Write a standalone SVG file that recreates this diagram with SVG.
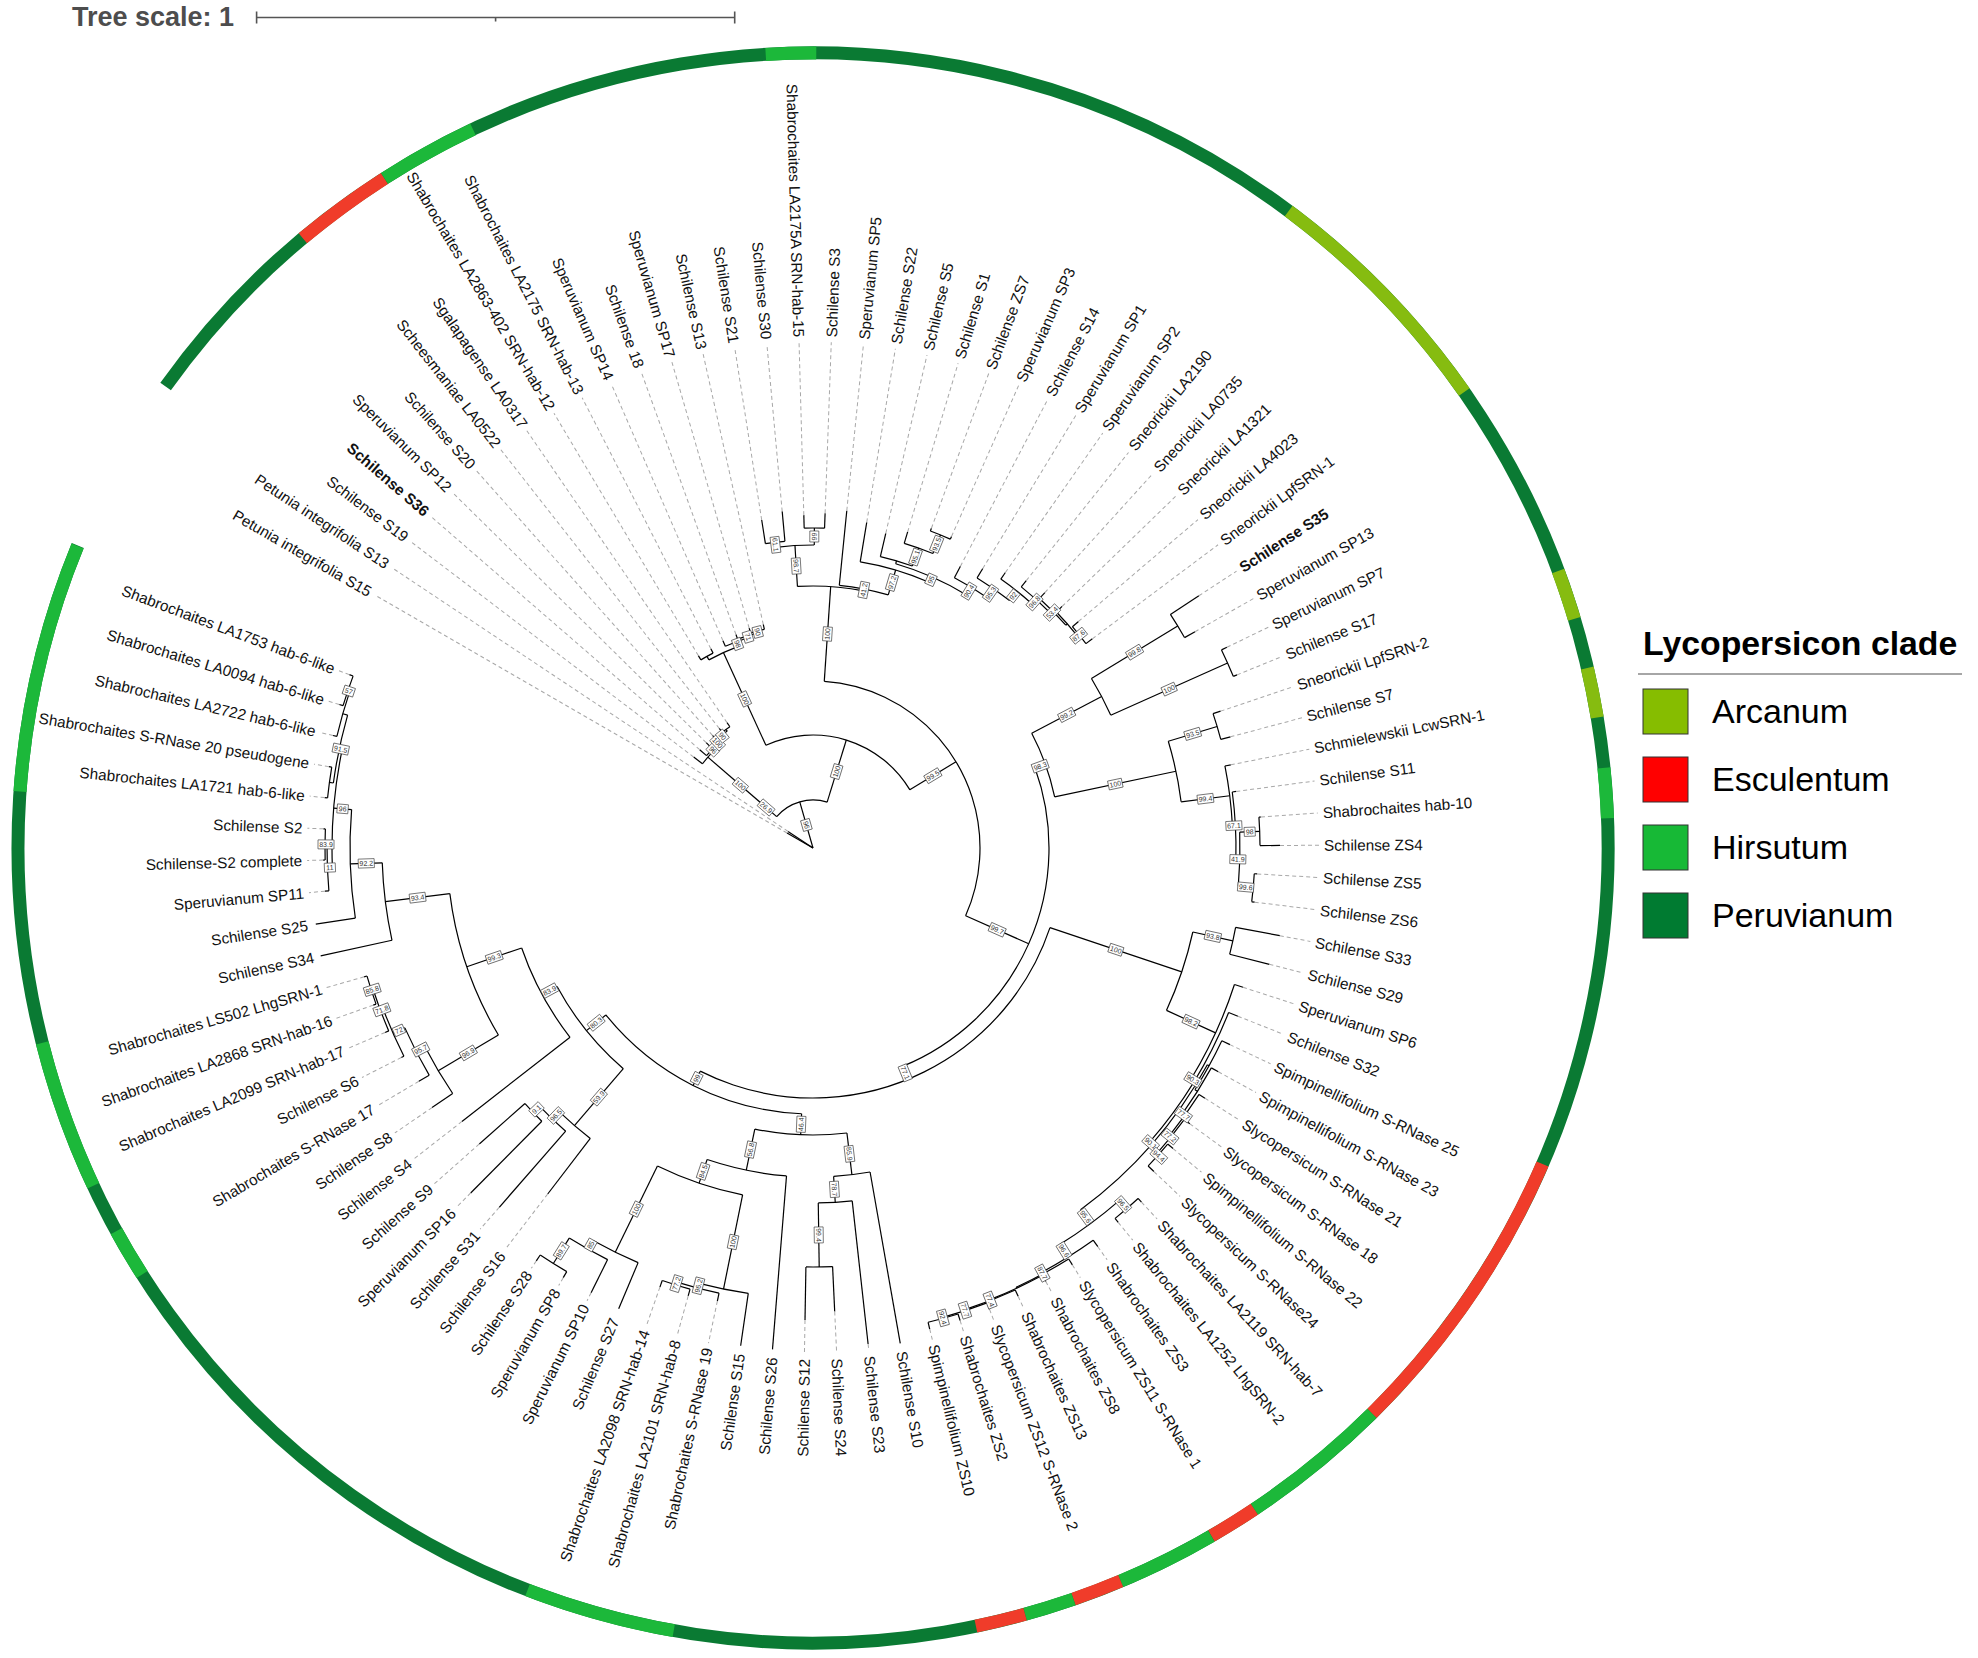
<svg xmlns="http://www.w3.org/2000/svg" width="1978" height="1658" viewBox="0 0 1978 1658">
<style>
.br{fill:none;stroke:#000;stroke-width:1.2}
.ld{fill:none;stroke:#a8a8a8;stroke-width:1;stroke-dasharray:4 3}
.rg{fill:none;stroke-width:13}
.lb text{font-family:"Liberation Sans",Arial,sans-serif;font-size:15.3px;fill:#111;dominant-baseline:central}
.lb .L{text-anchor:end}
.lb .b{font-weight:bold}
.bs rect{fill:#fff;stroke:#444;stroke-width:0.7}
.bs text{font-family:"Liberation Sans",Arial,sans-serif;font-size:7px;fill:#333;text-anchor:middle;dominant-baseline:central}
.lg{font-family:"Liberation Sans",Arial,sans-serif;font-size:34px;fill:#000}
.sw{stroke:#333;stroke-width:1}
</style>
<rect width="1978" height="1658" fill="#fff"/>
<g id="tree-scale">
<text x="72" y="26" font-family="Liberation Sans,Arial,sans-serif" font-size="27" font-weight="bold" fill="#4d4d4d">Tree scale: 1</text>
<path d="M256.6 17.5H734.7M256.6 11.5V23.5M734.7 11.5V23.5M495.6 17.5V21.5" fill="none" stroke="#555" stroke-width="1.6"/>
</g>
<g transform="translate(813,848)">
<g id="clade-ring">
<circle class="rg" r="795" stroke="#0a7a33" stroke-dasharray="4812.6 9999" transform="rotate(215.48)"/>
<circle class="rg" r="795" stroke="#f03c2a" stroke-dasharray="101.32 9999" transform="rotate(230.08)"/>
<circle class="rg" r="795" stroke="#1cb83a" stroke-dasharray="101.32 9999" transform="rotate(237.38)"/>
<circle class="rg" r="795" stroke="#1cb83a" stroke-dasharray="50.66 9999" transform="rotate(266.59)"/>
<circle class="rg" r="795" stroke="#86bc10" stroke-dasharray="253.3 9999" transform="rotate(306.75)"/>
<circle class="rg" r="795" stroke="#86bc10" stroke-dasharray="50.66 9999" transform="rotate(339.61)"/>
<circle class="rg" r="795" stroke="#86bc10" stroke-dasharray="50.66 9999" transform="rotate(346.91)"/>
<circle class="rg" r="795" stroke="#1cb83a" stroke-dasharray="50.66 9999" transform="rotate(354.21)"/>
<circle class="rg" r="795" stroke="#f03c2a" stroke-dasharray="303.95 9999" transform="rotate(23.42)"/>
<circle class="rg" r="795" stroke="#1cb83a" stroke-dasharray="151.98 9999" transform="rotate(45.33)"/>
<circle class="rg" r="795" stroke="#f03c2a" stroke-dasharray="50.66 9999" transform="rotate(56.28)"/>
<circle class="rg" r="795" stroke="#1cb83a" stroke-dasharray="101.32 9999" transform="rotate(59.93)"/>
<circle class="rg" r="795" stroke="#f03c2a" stroke-dasharray="50.66 9999" transform="rotate(67.23)"/>
<circle class="rg" r="795" stroke="#1cb83a" stroke-dasharray="50.66 9999" transform="rotate(70.88)"/>
<circle class="rg" r="795" stroke="#f03c2a" stroke-dasharray="50.66 9999" transform="rotate(74.53)"/>
<circle class="rg" r="795" stroke="#1cb83a" stroke-dasharray="151.98 9999" transform="rotate(100.09)"/>
<circle class="rg" r="795" stroke="#1cb83a" stroke-dasharray="50.66 9999" transform="rotate(147.55)"/>
<circle class="rg" r="795" stroke="#1cb83a" stroke-dasharray="151.98 9999" transform="rotate(154.86)"/>
<circle class="rg" r="795" stroke="#1cb83a" stroke-dasharray="253.3 9999" transform="rotate(184.07)"/>
</g>
<g id="connectors" class="br">
<path d="M0 0H30" transform="rotate(210)"/>
<path d="M0 0H30" transform="rotate(213.65)"/>
<path d="M0 0H48" transform="rotate(253.99)"/>
<path d="M48 0H139" transform="rotate(220.84)"/>
<path d="M48 0H113" transform="rotate(287.14)"/>
<path d="M139 0H150" transform="rotate(217.3)"/>
<path d="M139 0H141" transform="rotate(224.38)"/>
<path d="M141 0H150" transform="rotate(220.95)"/>
<path d="M141 0H143" transform="rotate(227.8)"/>
<path d="M143 0H150" transform="rotate(224.6)"/>
<path d="M143 0H145" transform="rotate(231)"/>
<path d="M145 0H151" transform="rotate(228.26)"/>
<path d="M145 0H147" transform="rotate(233.73)"/>
<path d="M147 0H152" transform="rotate(231.91)"/>
<path d="M147 0H152" transform="rotate(235.56)"/>
<path d="M113 0H215" transform="rotate(245.37)"/>
<path d="M113 0H167" transform="rotate(328.91)"/>
<path d="M215 0H219" transform="rotate(241.04)"/>
<path d="M215 0H220" transform="rotate(249.71)"/>
<path d="M219 0H224" transform="rotate(239.21)"/>
<path d="M219 0H224" transform="rotate(242.86)"/>
<path d="M220 0H226" transform="rotate(246.51)"/>
<path d="M220 0H222" transform="rotate(252.9)"/>
<path d="M222 0H227" transform="rotate(250.16)"/>
<path d="M222 0H224" transform="rotate(255.64)"/>
<path d="M224 0H229" transform="rotate(253.81)"/>
<path d="M224 0H229" transform="rotate(257.46)"/>
<path d="M167 0H262" transform="rotate(273.87)"/>
<path d="M167 0H236" transform="rotate(23.94)"/>
<path d="M262 0H303" transform="rotate(266.59)"/>
<path d="M262 0H264" transform="rotate(281.14)"/>
<path d="M303 0H308" transform="rotate(262.94)"/>
<path d="M303 0H320" transform="rotate(270.24)"/>
<path d="M308 0H332" transform="rotate(261.11)"/>
<path d="M308 0H338" transform="rotate(264.77)"/>
<path d="M320 0H333" transform="rotate(268.42)"/>
<path d="M320 0H335" transform="rotate(272.07)"/>
<path d="M264 0H339" transform="rotate(275.72)"/>
<path d="M264 0H290" transform="rotate(286.56)"/>
<path d="M290 0H330" transform="rotate(279.37)"/>
<path d="M290 0H296" transform="rotate(293.74)"/>
<path d="M296 0H299" transform="rotate(286.22)"/>
<path d="M296 0H305" transform="rotate(301.25)"/>
<path d="M299 0H323" transform="rotate(283.02)"/>
<path d="M299 0H318" transform="rotate(289.41)"/>
<path d="M318 0H330" transform="rotate(286.67)"/>
<path d="M318 0H338" transform="rotate(292.15)"/>
<path d="M338 0H341" transform="rotate(290.32)"/>
<path d="M338 0H341" transform="rotate(293.97)"/>
<path d="M305 0H318" transform="rotate(297.62)"/>
<path d="M305 0H316" transform="rotate(304.87)"/>
<path d="M316 0H327" transform="rotate(301.28)"/>
<path d="M316 0H328" transform="rotate(308.47)"/>
<path d="M328 0H336" transform="rotate(304.93)"/>
<path d="M328 0H334" transform="rotate(312)"/>
<path d="M334 0H342" transform="rotate(308.58)"/>
<path d="M334 0H337" transform="rotate(315.43)"/>
<path d="M337 0H345" transform="rotate(312.23)"/>
<path d="M337 0H339" transform="rotate(318.62)"/>
<path d="M339 0H347" transform="rotate(315.88)"/>
<path d="M339 0H341" transform="rotate(321.36)"/>
<path d="M341 0H349" transform="rotate(319.53)"/>
<path d="M341 0H349" transform="rotate(323.18)"/>
<path d="M236 0H247" transform="rotate(340.19)"/>
<path d="M236 0H250" transform="rotate(67.69)"/>
<path d="M247 0H326" transform="rotate(332.31)"/>
<path d="M247 0H371" transform="rotate(348.06)"/>
<path d="M326 0H427" transform="rotate(328.66)"/>
<path d="M326 0H454" transform="rotate(335.96)"/>
<path d="M427 0H461" transform="rotate(326.83)"/>
<path d="M427 0H439" transform="rotate(330.48)"/>
<path d="M454 0H460" transform="rotate(334.13)"/>
<path d="M454 0H458" transform="rotate(337.79)"/>
<path d="M371 0H422" transform="rotate(343.27)"/>
<path d="M371 0H420" transform="rotate(352.85)"/>
<path d="M422 0H430" transform="rotate(341.44)"/>
<path d="M422 0H432" transform="rotate(345.09)"/>
<path d="M420 0H426" transform="rotate(348.74)"/>
<path d="M420 0H423" transform="rotate(356.96)"/>
<path d="M423 0H427" transform="rotate(352.39)"/>
<path d="M423 0H427" transform="rotate(1.52)"/>
<path d="M427 0H447" transform="rotate(357.87)"/>
<path d="M427 0H442" transform="rotate(5.17)"/>
<path d="M447 0H449" transform="rotate(356.04)"/>
<path d="M447 0H467" transform="rotate(359.69)"/>
<path d="M442 0H445" transform="rotate(3.34)"/>
<path d="M442 0H445" transform="rotate(6.99)"/>
<path d="M250 0H389" transform="rotate(18.57)"/>
<path d="M250 0H266" transform="rotate(116.8)"/>
<path d="M389 0H430" transform="rotate(12.47)"/>
<path d="M389 0H443" transform="rotate(24.67)"/>
<path d="M430 0H475" transform="rotate(10.64)"/>
<path d="M430 0H471" transform="rotate(14.3)"/>
<path d="M443 0H452" transform="rotate(17.95)"/>
<path d="M443 0H447" transform="rotate(31.38)"/>
<path d="M447 0H457" transform="rotate(21.6)"/>
<path d="M447 0H450" transform="rotate(41.16)"/>
<path d="M450 0H452" transform="rotate(28.79)"/>
<path d="M450 0H467" transform="rotate(53.52)"/>
<path d="M452 0H461" transform="rotate(25.25)"/>
<path d="M452 0H455" transform="rotate(32.33)"/>
<path d="M455 0H463" transform="rotate(28.9)"/>
<path d="M455 0H458" transform="rotate(35.75)"/>
<path d="M458 0H465" transform="rotate(32.55)"/>
<path d="M458 0H460" transform="rotate(38.94)"/>
<path d="M460 0H467" transform="rotate(36.2)"/>
<path d="M460 0H462" transform="rotate(41.68)"/>
<path d="M462 0H469" transform="rotate(39.85)"/>
<path d="M462 0H470" transform="rotate(43.5)"/>
<path d="M467 0H478" transform="rotate(48.98)"/>
<path d="M467 0H482" transform="rotate(58.06)"/>
<path d="M478 0H483" transform="rotate(47.15)"/>
<path d="M478 0H483" transform="rotate(50.81)"/>
<path d="M482 0H490" transform="rotate(54.46)"/>
<path d="M482 0H484" transform="rotate(61.65)"/>
<path d="M484 0H491" transform="rotate(58.11)"/>
<path d="M484 0H485" transform="rotate(65.19)"/>
<path d="M485 0H492" transform="rotate(61.76)"/>
<path d="M485 0H486" transform="rotate(68.61)"/>
<path d="M486 0H493" transform="rotate(65.41)"/>
<path d="M486 0H487" transform="rotate(71.8)"/>
<path d="M487 0H494" transform="rotate(69.06)"/>
<path d="M487 0H488" transform="rotate(74.54)"/>
<path d="M488 0H495" transform="rotate(72.71)"/>
<path d="M488 0H495" transform="rotate(76.36)"/>
<path d="M266 0H287" transform="rotate(92.46)"/>
<path d="M266 0H291" transform="rotate(141.13)"/>
<path d="M287 0H329" transform="rotate(83.21)"/>
<path d="M287 0H329" transform="rotate(101.7)"/>
<path d="M329 0H503" transform="rotate(80.01)"/>
<path d="M329 0H355" transform="rotate(86.41)"/>
<path d="M355 0H499" transform="rotate(83.66)"/>
<path d="M355 0H419" transform="rotate(89.15)"/>
<path d="M419 0H464" transform="rotate(87.32)"/>
<path d="M419 0H472" transform="rotate(90.97)"/>
<path d="M329 0H503" transform="rotate(94.62)"/>
<path d="M329 0H354" transform="rotate(108.77)"/>
<path d="M354 0H450" transform="rotate(101.47)"/>
<path d="M354 0H450" transform="rotate(116.07)"/>
<path d="M450 0H503" transform="rotate(98.27)"/>
<path d="M450 0H455" transform="rotate(104.66)"/>
<path d="M455 0H463" transform="rotate(101.92)"/>
<path d="M455 0H458" transform="rotate(107.4)"/>
<path d="M458 0H465" transform="rotate(105.57)"/>
<path d="M458 0H465" transform="rotate(109.22)"/>
<path d="M450 0H500" transform="rotate(112.87)"/>
<path d="M450 0H460" transform="rotate(119.26)"/>
<path d="M460 0H497" transform="rotate(116.52)"/>
<path d="M460 0H490" transform="rotate(122)"/>
<path d="M490 0H497" transform="rotate(120.17)"/>
<path d="M490 0H497" transform="rotate(123.83)"/>
<path d="M291 0H366" transform="rotate(130.68)"/>
<path d="M291 0H308" transform="rotate(151.57)"/>
<path d="M366 0H436" transform="rotate(127.48)"/>
<path d="M366 0H376" transform="rotate(133.87)"/>
<path d="M376 0H477" transform="rotate(131.13)"/>
<path d="M376 0H385" transform="rotate(136.61)"/>
<path d="M385 0H486" transform="rotate(134.78)"/>
<path d="M385 0H446" transform="rotate(138.43)"/>
<path d="M308 0H445" transform="rotate(142.08)"/>
<path d="M308 0H366" transform="rotate(161.06)"/>
<path d="M366 0H436" transform="rotate(149.27)"/>
<path d="M366 0H431" transform="rotate(172.84)"/>
<path d="M436 0H461" transform="rotate(145.73)"/>
<path d="M436 0H446" transform="rotate(152.81)"/>
<path d="M446 0H458" transform="rotate(149.38)"/>
<path d="M446 0H459" transform="rotate(156.23)"/>
<path d="M459 0H462" transform="rotate(153.03)"/>
<path d="M459 0H462" transform="rotate(159.43)"/>
<path d="M462 0H466" transform="rotate(156.68)"/>
<path d="M462 0H464" transform="rotate(162.17)"/>
<path d="M464 0H467" transform="rotate(160.34)"/>
<path d="M464 0H467" transform="rotate(163.99)"/>
<path d="M431 0H504" transform="rotate(167.64)"/>
<path d="M431 0H463" transform="rotate(178.03)"/>
<path d="M463 0H503" transform="rotate(171.29)"/>
<path d="M463 0H481" transform="rotate(184.76)"/>
<path d="M481 0H486" transform="rotate(177.68)"/>
<path d="M481 0H484" transform="rotate(191.83)"/>
<path d="M486 0H490" transform="rotate(174.94)"/>
<path d="M486 0H488" transform="rotate(180.42)"/>
<path d="M488 0H490" transform="rotate(178.59)"/>
<path d="M488 0H490" transform="rotate(182.24)"/>
<path d="M484 0H488" transform="rotate(187.72)"/>
<path d="M484 0H489" transform="rotate(195.94)"/>
<path d="M488 0H491" transform="rotate(185.89)"/>
<path d="M488 0H491" transform="rotate(189.54)"/>
<path d="M489 0H493" transform="rotate(193.19)"/>
<path d="M489 0H491" transform="rotate(198.68)"/>
<path d="M491 0H495" transform="rotate(196.85)"/>
<path d="M491 0H495" transform="rotate(200.5)"/>
<circle r="48" stroke-dasharray="55.54 9999" transform="rotate(220.84)"/>
<circle r="139" stroke-dasharray="17.18 9999" transform="rotate(217.3)"/>
<circle r="141" stroke-dasharray="16.86 9999" transform="rotate(220.95)"/>
<circle r="143" stroke-dasharray="15.97 9999" transform="rotate(224.6)"/>
<circle r="145" stroke-dasharray="13.84 9999" transform="rotate(228.26)"/>
<circle r="147" stroke-dasharray="9.36 9999" transform="rotate(231.91)"/>
<circle r="113" stroke-dasharray="164.76 9999" transform="rotate(245.37)"/>
<circle r="215" stroke-dasharray="32.53 9999" transform="rotate(241.04)"/>
<circle r="219" stroke-dasharray="13.95 9999" transform="rotate(239.21)"/>
<circle r="220" stroke-dasharray="24.54 9999" transform="rotate(246.51)"/>
<circle r="222" stroke-dasharray="21.23 9999" transform="rotate(250.16)"/>
<circle r="224" stroke-dasharray="14.27 9999" transform="rotate(253.81)"/>
<circle r="167" stroke-dasharray="320.82 9999" transform="rotate(273.87)"/>
<circle r="262" stroke-dasharray="66.53 9999" transform="rotate(266.59)"/>
<circle r="303" stroke-dasharray="38.61 9999" transform="rotate(262.94)"/>
<circle r="308" stroke-dasharray="19.67 9999" transform="rotate(261.11)"/>
<circle r="320" stroke-dasharray="20.39 9999" transform="rotate(268.42)"/>
<circle r="264" stroke-dasharray="49.95 9999" transform="rotate(275.72)"/>
<circle r="290" stroke-dasharray="72.73 9999" transform="rotate(279.37)"/>
<circle r="296" stroke-dasharray="77.65 9999" transform="rotate(286.22)"/>
<circle r="299" stroke-dasharray="33.35 9999" transform="rotate(283.02)"/>
<circle r="318" stroke-dasharray="30.41 9999" transform="rotate(286.67)"/>
<circle r="338" stroke-dasharray="21.53 9999" transform="rotate(290.32)"/>
<circle r="305" stroke-dasharray="38.59 9999" transform="rotate(297.62)"/>
<circle r="316" stroke-dasharray="39.65 9999" transform="rotate(301.28)"/>
<circle r="328" stroke-dasharray="40.47 9999" transform="rotate(304.93)"/>
<circle r="334" stroke-dasharray="39.93 9999" transform="rotate(308.58)"/>
<circle r="337" stroke-dasharray="37.58 9999" transform="rotate(312.23)"/>
<circle r="339" stroke-dasharray="32.42 9999" transform="rotate(315.88)"/>
<circle r="341" stroke-dasharray="21.72 9999" transform="rotate(319.53)"/>
<circle r="236" stroke-dasharray="360.41 9999" transform="rotate(340.19)"/>
<circle r="247" stroke-dasharray="67.9 9999" transform="rotate(332.31)"/>
<circle r="326" stroke-dasharray="41.54 9999" transform="rotate(328.66)"/>
<circle r="427" stroke-dasharray="27.2 9999" transform="rotate(326.83)"/>
<circle r="454" stroke-dasharray="29 9999" transform="rotate(334.13)"/>
<circle r="371" stroke-dasharray="62.03 9999" transform="rotate(343.27)"/>
<circle r="422" stroke-dasharray="26.88 9999" transform="rotate(341.44)"/>
<circle r="420" stroke-dasharray="60.26 9999" transform="rotate(348.74)"/>
<circle r="423" stroke-dasharray="67.4 9999" transform="rotate(352.39)"/>
<circle r="427" stroke-dasharray="54.4 9999" transform="rotate(357.87)"/>
<circle r="447" stroke-dasharray="28.48 9999" transform="rotate(356.04)"/>
<circle r="442" stroke-dasharray="28.16 9999" transform="rotate(3.34)"/>
<circle r="250" stroke-dasharray="428.61 9999" transform="rotate(18.57)"/>
<circle r="389" stroke-dasharray="82.83 9999" transform="rotate(12.47)"/>
<circle r="430" stroke-dasharray="27.47 9999" transform="rotate(10.64)"/>
<circle r="443" stroke-dasharray="103.84 9999" transform="rotate(17.95)"/>
<circle r="447" stroke-dasharray="152.6 9999" transform="rotate(21.6)"/>
<circle r="450" stroke-dasharray="194.23 9999" transform="rotate(28.79)"/>
<circle r="452" stroke-dasharray="55.85 9999" transform="rotate(25.25)"/>
<circle r="455" stroke-dasharray="54.4 9999" transform="rotate(28.9)"/>
<circle r="458" stroke-dasharray="51.08 9999" transform="rotate(32.55)"/>
<circle r="460" stroke-dasharray="44 9999" transform="rotate(36.2)"/>
<circle r="462" stroke-dasharray="29.43 9999" transform="rotate(39.85)"/>
<circle r="467" stroke-dasharray="74.01 9999" transform="rotate(48.98)"/>
<circle r="478" stroke-dasharray="30.53 9999" transform="rotate(47.15)"/>
<circle r="482" stroke-dasharray="60.49 9999" transform="rotate(54.46)"/>
<circle r="484" stroke-dasharray="59.81 9999" transform="rotate(58.11)"/>
<circle r="485" stroke-dasharray="57.98 9999" transform="rotate(61.76)"/>
<circle r="486" stroke-dasharray="54.2 9999" transform="rotate(65.41)"/>
<circle r="487" stroke-dasharray="46.58 9999" transform="rotate(69.06)"/>
<circle r="488" stroke-dasharray="31.09 9999" transform="rotate(72.71)"/>
<circle r="266" stroke-dasharray="225.95 9999" transform="rotate(92.46)"/>
<circle r="287" stroke-dasharray="92.62 9999" transform="rotate(83.21)"/>
<circle r="329" stroke-dasharray="36.75 9999" transform="rotate(80.01)"/>
<circle r="355" stroke-dasharray="34.02 9999" transform="rotate(83.66)"/>
<circle r="419" stroke-dasharray="26.69 9999" transform="rotate(87.32)"/>
<circle r="329" stroke-dasharray="81.25 9999" transform="rotate(94.62)"/>
<circle r="354" stroke-dasharray="90.21 9999" transform="rotate(101.47)"/>
<circle r="450" stroke-dasharray="50.19 9999" transform="rotate(98.27)"/>
<circle r="455" stroke-dasharray="43.52 9999" transform="rotate(101.92)"/>
<circle r="458" stroke-dasharray="29.18 9999" transform="rotate(105.57)"/>
<circle r="450" stroke-dasharray="50.19 9999" transform="rotate(112.87)"/>
<circle r="460" stroke-dasharray="44 9999" transform="rotate(116.52)"/>
<circle r="490" stroke-dasharray="31.3 9999" transform="rotate(120.17)"/>
<circle r="291" stroke-dasharray="106.1 9999" transform="rotate(130.68)"/>
<circle r="366" stroke-dasharray="40.82 9999" transform="rotate(127.48)"/>
<circle r="376" stroke-dasharray="35.96 9999" transform="rotate(131.13)"/>
<circle r="385" stroke-dasharray="24.53 9999" transform="rotate(134.78)"/>
<circle r="308" stroke-dasharray="102.03 9999" transform="rotate(142.08)"/>
<circle r="366" stroke-dasharray="150.56 9999" transform="rotate(149.27)"/>
<circle r="436" stroke-dasharray="53.88 9999" transform="rotate(145.73)"/>
<circle r="446" stroke-dasharray="53.32 9999" transform="rotate(149.38)"/>
<circle r="459" stroke-dasharray="51.27 9999" transform="rotate(153.03)"/>
<circle r="462" stroke-dasharray="44.27 9999" transform="rotate(156.68)"/>
<circle r="464" stroke-dasharray="29.56 9999" transform="rotate(160.34)"/>
<circle r="431" stroke-dasharray="78.16 9999" transform="rotate(167.64)"/>
<circle r="463" stroke-dasharray="108.85 9999" transform="rotate(171.29)"/>
<circle r="481" stroke-dasharray="118.79 9999" transform="rotate(177.68)"/>
<circle r="486" stroke-dasharray="46.48 9999" transform="rotate(174.94)"/>
<circle r="488" stroke-dasharray="31.09 9999" transform="rotate(178.59)"/>
<circle r="484" stroke-dasharray="69.44 9999" transform="rotate(187.72)"/>
<circle r="488" stroke-dasharray="31.09 9999" transform="rotate(185.89)"/>
<circle r="489" stroke-dasharray="46.86 9999" transform="rotate(193.19)"/>
<circle r="491" stroke-dasharray="31.28 9999" transform="rotate(196.85)"/>
</g>
<g id="leader-lines" class="ld">
<path d="M30 0H506" transform="rotate(210)"/>
<path d="M30 0H506" transform="rotate(213.65)"/>
<path d="M150 0H506" transform="rotate(217.3)"/>
<path d="M150 0H506" transform="rotate(220.95)"/>
<path d="M150 0H506" transform="rotate(224.6)"/>
<path d="M151 0H506" transform="rotate(228.26)"/>
<path d="M152 0H506" transform="rotate(231.91)"/>
<path d="M152 0H506" transform="rotate(235.56)"/>
<path d="M224 0H506" transform="rotate(239.21)"/>
<path d="M224 0H506" transform="rotate(242.86)"/>
<path d="M226 0H506" transform="rotate(246.51)"/>
<path d="M227 0H506" transform="rotate(250.16)"/>
<path d="M229 0H506" transform="rotate(253.81)"/>
<path d="M229 0H506" transform="rotate(257.46)"/>
<path d="M332 0H506" transform="rotate(261.11)"/>
<path d="M338 0H506" transform="rotate(264.77)"/>
<path d="M333 0H506" transform="rotate(268.42)"/>
<path d="M335 0H506" transform="rotate(272.07)"/>
<path d="M339 0H506" transform="rotate(275.72)"/>
<path d="M330 0H506" transform="rotate(279.37)"/>
<path d="M323 0H506" transform="rotate(283.02)"/>
<path d="M330 0H506" transform="rotate(286.67)"/>
<path d="M341 0H506" transform="rotate(290.32)"/>
<path d="M341 0H506" transform="rotate(293.97)"/>
<path d="M318 0H506" transform="rotate(297.62)"/>
<path d="M327 0H506" transform="rotate(301.28)"/>
<path d="M336 0H506" transform="rotate(304.93)"/>
<path d="M342 0H506" transform="rotate(308.58)"/>
<path d="M345 0H506" transform="rotate(312.23)"/>
<path d="M347 0H506" transform="rotate(315.88)"/>
<path d="M349 0H506" transform="rotate(319.53)"/>
<path d="M349 0H506" transform="rotate(323.18)"/>
<path d="M461 0H506" transform="rotate(326.83)"/>
<path d="M439 0H506" transform="rotate(330.48)"/>
<path d="M460 0H506" transform="rotate(334.13)"/>
<path d="M458 0H506" transform="rotate(337.79)"/>
<path d="M430 0H506" transform="rotate(341.44)"/>
<path d="M432 0H506" transform="rotate(345.09)"/>
<path d="M426 0H506" transform="rotate(348.74)"/>
<path d="M427 0H506" transform="rotate(352.39)"/>
<path d="M449 0H506" transform="rotate(356.04)"/>
<path d="M467 0H506" transform="rotate(359.69)"/>
<path d="M445 0H506" transform="rotate(3.34)"/>
<path d="M445 0H506" transform="rotate(6.99)"/>
<path d="M475 0H506" transform="rotate(10.64)"/>
<path d="M471 0H506" transform="rotate(14.3)"/>
<path d="M452 0H506" transform="rotate(17.95)"/>
<path d="M457 0H506" transform="rotate(21.6)"/>
<path d="M461 0H506" transform="rotate(25.25)"/>
<path d="M463 0H506" transform="rotate(28.9)"/>
<path d="M465 0H506" transform="rotate(32.55)"/>
<path d="M467 0H506" transform="rotate(36.2)"/>
<path d="M469 0H506" transform="rotate(39.85)"/>
<path d="M470 0H506" transform="rotate(43.5)"/>
<path d="M483 0H506" transform="rotate(47.15)"/>
<path d="M483 0H506" transform="rotate(50.81)"/>
<path d="M490 0H506" transform="rotate(54.46)"/>
<path d="M491 0H506" transform="rotate(58.11)"/>
<path d="M492 0H506" transform="rotate(61.76)"/>
<path d="M493 0H506" transform="rotate(65.41)"/>
<path d="M494 0H506" transform="rotate(69.06)"/>
<path d="M495 0H506" transform="rotate(72.71)"/>
<path d="M495 0H506" transform="rotate(76.36)"/>
<path d="M499 0H506" transform="rotate(83.66)"/>
<path d="M464 0H506" transform="rotate(87.32)"/>
<path d="M472 0H506" transform="rotate(90.97)"/>
<path d="M463 0H506" transform="rotate(101.92)"/>
<path d="M465 0H506" transform="rotate(105.57)"/>
<path d="M465 0H506" transform="rotate(109.22)"/>
<path d="M497 0H506" transform="rotate(116.52)"/>
<path d="M497 0H506" transform="rotate(120.17)"/>
<path d="M497 0H506" transform="rotate(123.83)"/>
<path d="M436 0H506" transform="rotate(127.48)"/>
<path d="M477 0H506" transform="rotate(131.13)"/>
<path d="M486 0H506" transform="rotate(134.78)"/>
<path d="M446 0H506" transform="rotate(138.43)"/>
<path d="M445 0H506" transform="rotate(142.08)"/>
<path d="M461 0H506" transform="rotate(145.73)"/>
<path d="M458 0H506" transform="rotate(149.38)"/>
<path d="M462 0H506" transform="rotate(153.03)"/>
<path d="M466 0H506" transform="rotate(156.68)"/>
<path d="M467 0H506" transform="rotate(160.34)"/>
<path d="M467 0H506" transform="rotate(163.99)"/>
<path d="M490 0H506" transform="rotate(174.94)"/>
<path d="M490 0H506" transform="rotate(178.59)"/>
<path d="M490 0H506" transform="rotate(182.24)"/>
<path d="M491 0H506" transform="rotate(185.89)"/>
<path d="M491 0H506" transform="rotate(189.54)"/>
<path d="M493 0H506" transform="rotate(193.19)"/>
<path d="M495 0H506" transform="rotate(196.85)"/>
<path d="M495 0H506" transform="rotate(200.5)"/>
</g>
<g id="bootstrap" class="bs">
<g transform="rotate(73.99) translate(-24 0)"><rect x="-5.5" y="-4.5" width="11" height="9"/><text>96</text></g>
<g transform="rotate(40.84) translate(-62 0)"><rect x="-8" y="-4.5" width="16" height="9"/><text>26.9</text></g>
<g transform="rotate(40.84) translate(-96 0)"><rect x="-7" y="-4.5" width="14" height="9"/><text>100</text></g>
<g transform="rotate(44.38) translate(-140 0)"><rect x="-5.5" y="-4.5" width="11" height="9"/><text>96</text></g>
<g transform="rotate(47.8) translate(-142 0)"><rect x="-7" y="-4.5" width="14" height="9"/><text>100</text></g>
<g transform="rotate(51) translate(-144 0)"><rect x="-5.5" y="-4.5" width="11" height="9"/><text>90</text></g>
<g transform="rotate(287.14) translate(80 0)"><rect x="-7" y="-4.5" width="14" height="9"/><text>100</text></g>
<g transform="rotate(65.37) translate(-164 0)"><rect x="-7" y="-4.5" width="14" height="9"/><text>100</text></g>
<g transform="rotate(69.71) translate(-217.5 0)"><rect x="-5.5" y="-4.5" width="11" height="9"/><text>98</text></g>
<g transform="rotate(72.9) translate(-221 0)"><rect x="-5.5" y="-4.5" width="11" height="9"/><text>71</text></g>
<g transform="rotate(75.64) translate(-223 0)"><rect x="-5.5" y="-4.5" width="11" height="9"/><text>90</text></g>
<g transform="rotate(328.91) translate(140 0)"><rect x="-8" y="-4.5" width="16" height="9"/><text>99.5</text></g>
<g transform="rotate(273.87) translate(214.5 0)"><rect x="-7" y="-4.5" width="14" height="9"/><text>100</text></g>
<g transform="rotate(86.59) translate(-282.5 0)"><rect x="-8" y="-4.5" width="16" height="9"/><text>98.7</text></g>
<g transform="rotate(82.94) translate(-305.5 0)"><rect x="-8" y="-4.5" width="16" height="9"/><text>61.1</text></g>
<g transform="rotate(270.24) translate(311.5 0)"><rect x="-5.5" y="-4.5" width="11" height="9"/><text>99</text></g>
<g transform="rotate(281.14) translate(263 0)"><rect x="-8" y="-4.5" width="16" height="9"/><text>41.2</text></g>
<g transform="rotate(286.56) translate(277 0)"><rect x="-8" y="-4.5" width="16" height="9"/><text>97.2</text></g>
<g transform="rotate(293.74) translate(293 0)"><rect x="-5.5" y="-4.5" width="11" height="9"/><text>95</text></g>
<g transform="rotate(289.41) translate(308.5 0)"><rect x="-8" y="-4.5" width="16" height="9"/><text>95.1</text></g>
<g transform="rotate(292.15) translate(328 0)"><rect x="-8" y="-4.5" width="16" height="9"/><text>93.5</text></g>
<g transform="rotate(301.25) translate(300.5 0)"><rect x="-8" y="-4.5" width="16" height="9"/><text>90.4</text></g>
<g transform="rotate(304.87) translate(310.5 0)"><rect x="-8" y="-4.5" width="16" height="9"/><text>95.3</text></g>
<g transform="rotate(308.47) translate(322 0)"><rect x="-5.5" y="-4.5" width="11" height="9"/><text>92</text></g>
<g transform="rotate(312) translate(331 0)"><rect x="-8" y="-4.5" width="16" height="9"/><text>96.8</text></g>
<g transform="rotate(315.43) translate(335.5 0)"><rect x="-8" y="-4.5" width="16" height="9"/><text>53.4</text></g>
<g transform="rotate(321.36) translate(340 0)"><rect x="-8" y="-4.5" width="16" height="9"/><text>87.6</text></g>
<g transform="rotate(23.94) translate(201.5 0)"><rect x="-8" y="-4.5" width="16" height="9"/><text>99.7</text></g>
<g transform="rotate(340.19) translate(241.5 0)"><rect x="-8" y="-4.5" width="16" height="9"/><text>98.3</text></g>
<g transform="rotate(332.31) translate(286.5 0)"><rect x="-8" y="-4.5" width="16" height="9"/><text>99.2</text></g>
<g transform="rotate(328.66) translate(376.5 0)"><rect x="-8" y="-4.5" width="16" height="9"/><text>99.8</text></g>
<g transform="rotate(335.96) translate(390 0)"><rect x="-7" y="-4.5" width="14" height="9"/><text>100</text></g>
<g transform="rotate(348.06) translate(309 0)"><rect x="-7" y="-4.5" width="14" height="9"/><text>100</text></g>
<g transform="rotate(343.27) translate(396.5 0)"><rect x="-8" y="-4.5" width="16" height="9"/><text>93.5</text></g>
<g transform="rotate(352.85) translate(395.5 0)"><rect x="-8" y="-4.5" width="16" height="9"/><text>99.4</text></g>
<g transform="rotate(356.96) translate(421.5 0)"><rect x="-8" y="-4.5" width="16" height="9"/><text>67.1</text></g>
<g transform="rotate(1.52) translate(425 0)"><rect x="-8" y="-4.5" width="16" height="9"/><text>41.9</text></g>
<g transform="rotate(357.87) translate(437 0)"><rect x="-5.5" y="-4.5" width="11" height="9"/><text>98</text></g>
<g transform="rotate(5.17) translate(434.5 0)"><rect x="-8" y="-4.5" width="16" height="9"/><text>99.6</text></g>
<g transform="rotate(67.69) translate(243 0)"><rect x="-8" y="-4.5" width="16" height="9"/><text>77.1</text></g>
<g transform="rotate(18.57) translate(319.5 0)"><rect x="-7" y="-4.5" width="14" height="9"/><text>100</text></g>
<g transform="rotate(12.47) translate(409.5 0)"><rect x="-8" y="-4.5" width="16" height="9"/><text>93.8</text></g>
<g transform="rotate(24.67) translate(416 0)"><rect x="-8" y="-4.5" width="16" height="9"/><text>98.2</text></g>
<g transform="rotate(31.38) translate(445 0)"><rect x="-8" y="-4.5" width="16" height="9"/><text>90.3</text></g>
<g transform="rotate(41.16) translate(448.5 0)"><rect x="-8" y="-4.5" width="16" height="9"/><text>90.1</text></g>
<g transform="rotate(35.75) translate(456.5 0)"><rect x="-8" y="-4.5" width="16" height="9"/><text>77.7</text></g>
<g transform="rotate(38.94) translate(459 0)"><rect x="-8" y="-4.5" width="16" height="9"/><text>77.2</text></g>
<g transform="rotate(41.68) translate(463 0)"><rect x="-8" y="-4.5" width="16" height="9"/><text>94.4</text></g>
<g transform="rotate(53.52) translate(458.5 0)"><rect x="-8" y="-4.5" width="16" height="9"/><text>95.6</text></g>
<g transform="rotate(48.98) translate(472.5 0)"><rect x="-8" y="-4.5" width="16" height="9"/><text>96.5</text></g>
<g transform="rotate(58.06) translate(474.5 0)"><rect x="-8" y="-4.5" width="16" height="9"/><text>96.6</text></g>
<g transform="rotate(61.65) translate(483 0)"><rect x="-8" y="-4.5" width="16" height="9"/><text>87.7</text></g>
<g transform="rotate(68.61) translate(485.5 0)"><rect x="-8" y="-4.5" width="16" height="9"/><text>77.4</text></g>
<g transform="rotate(71.8) translate(486.5 0)"><rect x="-8" y="-4.5" width="16" height="9"/><text>77.7</text></g>
<g transform="rotate(74.54) translate(487.5 0)"><rect x="-8" y="-4.5" width="16" height="9"/><text>92.4</text></g>
<g transform="rotate(-63.2) translate(-258 0)"><rect x="-5.5" y="-4.5" width="11" height="9"/><text>99</text></g>
<g transform="rotate(-87.54) translate(-276.5 0)"><rect x="-8" y="-4.5" width="16" height="9"/><text>46.4</text></g>
<g transform="rotate(83.21) translate(308 0)"><rect x="-8" y="-4.5" width="16" height="9"/><text>85.9</text></g>
<g transform="rotate(86.41) translate(342 0)"><rect x="-8" y="-4.5" width="16" height="9"/><text>78.7</text></g>
<g transform="rotate(89.15) translate(387 0)"><rect x="-8" y="-4.5" width="16" height="9"/><text>99.4</text></g>
<g transform="rotate(-78.3) translate(-308 0)"><rect x="-8" y="-4.5" width="16" height="9"/><text>56.8</text></g>
<g transform="rotate(-71.23) translate(-341.5 0)"><rect x="-8" y="-4.5" width="16" height="9"/><text>84.5</text></g>
<g transform="rotate(-78.53) translate(-402 0)"><rect x="-7" y="-4.5" width="14" height="9"/><text>100</text></g>
<g transform="rotate(-75.34) translate(-452.5 0)"><rect x="-8" y="-4.5" width="16" height="9"/><text>96.2</text></g>
<g transform="rotate(-72.6) translate(-456.5 0)"><rect x="-8" y="-4.5" width="16" height="9"/><text>77.2</text></g>
<g transform="rotate(-63.93) translate(-402 0)"><rect x="-7" y="-4.5" width="14" height="9"/><text>100</text></g>
<g transform="rotate(-60.74) translate(-455 0)"><rect x="-5.5" y="-4.5" width="11" height="9"/><text>85</text></g>
<g transform="rotate(-58) translate(-475 0)"><rect x="-8" y="-4.5" width="16" height="9"/><text>89.7</text></g>
<g transform="rotate(-38.87) translate(-278.5 0)"><rect x="-8" y="-4.5" width="16" height="9"/><text>80.3</text></g>
<g transform="rotate(-49.32) translate(-328.5 0)"><rect x="-8" y="-4.5" width="16" height="9"/><text>59.9</text></g>
<g transform="rotate(-46.13) translate(-371 0)"><rect x="-8" y="-4.5" width="16" height="9"/><text>96.5</text></g>
<g transform="rotate(-43.39) translate(-380.5 0)"><rect x="-6.5" y="-4.5" width="13" height="9"/><text>9.1</text></g>
<g transform="rotate(-28.43) translate(-299.5 0)"><rect x="-8" y="-4.5" width="16" height="9"/><text>83.9</text></g>
<g transform="rotate(-18.94) translate(-337 0)"><rect x="-8" y="-4.5" width="16" height="9"/><text>99.3</text></g>
<g transform="rotate(-7.16) translate(-398.5 0)"><rect x="-8" y="-4.5" width="16" height="9"/><text>93.4</text></g>
<g transform="rotate(-30.73) translate(-401 0)"><rect x="-8" y="-4.5" width="16" height="9"/><text>96.9</text></g>
<g transform="rotate(-27.19) translate(-441 0)"><rect x="-8" y="-4.5" width="16" height="9"/><text>95.7</text></g>
<g transform="rotate(-23.77) translate(-452.5 0)"><rect x="-5.5" y="-4.5" width="11" height="9"/><text>72</text></g>
<g transform="rotate(-20.57) translate(-460.5 0)"><rect x="-8" y="-4.5" width="16" height="9"/><text>71.8</text></g>
<g transform="rotate(-17.83) translate(-463 0)"><rect x="-8" y="-4.5" width="16" height="9"/><text>85.8</text></g>
<g transform="rotate(-1.97) translate(-447 0)"><rect x="-8" y="-4.5" width="16" height="9"/><text>92.2</text></g>
<g transform="rotate(4.76) translate(-472 0)"><rect x="-5.5" y="-4.5" width="11" height="9"/><text>96</text></g>
<g transform="rotate(-2.32) translate(-483.5 0)"><rect x="-5.5" y="-4.5" width="11" height="9"/><text>11</text></g>
<g transform="rotate(0.42) translate(-487 0)"><rect x="-8" y="-4.5" width="16" height="9"/><text>83.9</text></g>
<g transform="rotate(11.83) translate(-482.5 0)"><rect x="-8" y="-4.5" width="16" height="9"/><text>91.5</text></g>
<g transform="rotate(18.68) translate(-490 0)"><rect x="-5.5" y="-4.5" width="11" height="9"/><text>57</text></g>
</g>
<g id="leaf-labels" class="lb">
<g id="leaf-1"><text class="L" transform="rotate(30) translate(-511 0)">Petunia integrifolia S15</text></g>
<g id="leaf-2"><text class="L" transform="rotate(33.65) translate(-511 0)">Petunia integrifolia S13</text></g>
<g id="leaf-3"><text class="L" transform="rotate(37.3) translate(-511 0)">Schilense S19</text></g>
<g id="leaf-4"><text class="L b" transform="rotate(40.95) translate(-511 0)">Schilense S36</text></g>
<g id="leaf-5"><text class="L" transform="rotate(44.6) translate(-511 0)">Speruvianum SP12</text></g>
<g id="leaf-6"><text class="L" transform="rotate(48.26) translate(-511 0)">Schilense S20</text></g>
<g id="leaf-7"><text class="L" transform="rotate(51.91) translate(-511 0)">Scheesmaniae LA0522</text></g>
<g id="leaf-8"><text class="L" transform="rotate(55.56) translate(-511 0)">Sgalapagense LA0317</text></g>
<g id="leaf-9"><text class="L" transform="rotate(59.21) translate(-511 0)">Shabrochaites LA2863-402 SRN-hab-12</text></g>
<g id="leaf-10"><text class="L" transform="rotate(62.86) translate(-511 0)">Shabrochaites LA2175 SRN-hab-13</text></g>
<g id="leaf-11"><text class="L" transform="rotate(66.51) translate(-511 0)">Speruvianum SP14</text></g>
<g id="leaf-12"><text class="L" transform="rotate(70.16) translate(-511 0)">Schilense 18</text></g>
<g id="leaf-13"><text class="L" transform="rotate(73.81) translate(-511 0)">Speruvianum SP17</text></g>
<g id="leaf-14"><text class="L" transform="rotate(77.46) translate(-511 0)">Schilense S13</text></g>
<g id="leaf-15"><text class="L" transform="rotate(81.11) translate(-511 0)">Schilense S21</text></g>
<g id="leaf-16"><text class="L" transform="rotate(84.77) translate(-511 0)">Schilense S30</text></g>
<g id="leaf-17"><text class="L" transform="rotate(88.42) translate(-511 0)">Shabrochaites LA2175A SRN-hab-15</text></g>
<g id="leaf-18"><text transform="rotate(272.07) translate(511 0)">Schilense S3</text></g>
<g id="leaf-19"><text transform="rotate(275.72) translate(511 0)">Speruvianum SP5</text></g>
<g id="leaf-20"><text transform="rotate(279.37) translate(511 0)">Schilense S22</text></g>
<g id="leaf-21"><text transform="rotate(283.02) translate(511 0)">Schilense S5</text></g>
<g id="leaf-22"><text transform="rotate(286.67) translate(511 0)">Schilense S1</text></g>
<g id="leaf-23"><text transform="rotate(290.32) translate(511 0)">Schilense ZS7</text></g>
<g id="leaf-24"><text transform="rotate(293.97) translate(511 0)">Speruvianum SP3</text></g>
<g id="leaf-25"><text transform="rotate(297.62) translate(511 0)">Schilense S14</text></g>
<g id="leaf-26"><text transform="rotate(301.28) translate(511 0)">Speruvianum SP1</text></g>
<g id="leaf-27"><text transform="rotate(304.93) translate(511 0)">Speruvianum SP2</text></g>
<g id="leaf-28"><text transform="rotate(308.58) translate(511 0)">Sneorickii LA2190</text></g>
<g id="leaf-29"><text transform="rotate(312.23) translate(511 0)">Sneorickii LA0735</text></g>
<g id="leaf-30"><text transform="rotate(315.88) translate(511 0)">Sneorickii LA1321</text></g>
<g id="leaf-31"><text transform="rotate(319.53) translate(511 0)">Sneorickii LA4023</text></g>
<g id="leaf-32"><text transform="rotate(323.18) translate(511 0)">Sneorickii LpfSRN-1</text></g>
<g id="leaf-33"><text class="b" transform="rotate(326.83) translate(511 0)">Schilense S35</text></g>
<g id="leaf-34"><text transform="rotate(330.48) translate(511 0)">Speruvianum SP13</text></g>
<g id="leaf-35"><text transform="rotate(334.13) translate(511 0)">Speruvianum SP7</text></g>
<g id="leaf-36"><text transform="rotate(337.79) translate(511 0)">Schilense S17</text></g>
<g id="leaf-37"><text transform="rotate(341.44) translate(511 0)">Sneorickii LpfSRN-2</text></g>
<g id="leaf-38"><text transform="rotate(345.09) translate(511 0)">Schilense S7</text></g>
<g id="leaf-39"><text transform="rotate(348.74) translate(511 0)">Schmielewskii LcwSRN-1</text></g>
<g id="leaf-40"><text transform="rotate(352.39) translate(511 0)">Schilense S11</text></g>
<g id="leaf-41"><text transform="rotate(356.04) translate(511 0)">Shabrochaites hab-10</text></g>
<g id="leaf-42"><text transform="rotate(359.69) translate(511 0)">Schilense ZS4</text></g>
<g id="leaf-43"><text transform="rotate(3.34) translate(511 0)">Schilense ZS5</text></g>
<g id="leaf-44"><text transform="rotate(6.99) translate(511 0)">Schilense ZS6</text></g>
<g id="leaf-45"><text transform="rotate(10.64) translate(511 0)">Schilense S33</text></g>
<g id="leaf-46"><text transform="rotate(14.3) translate(511 0)">Schilense S29</text></g>
<g id="leaf-47"><text transform="rotate(17.95) translate(511 0)">Speruvianum SP6</text></g>
<g id="leaf-48"><text transform="rotate(21.6) translate(511 0)">Schilense S32</text></g>
<g id="leaf-49"><text transform="rotate(25.25) translate(511 0)">Spimpinellifolium S-RNase 25</text></g>
<g id="leaf-50"><text transform="rotate(28.9) translate(511 0)">Spimpinellifolium S-RNase 23</text></g>
<g id="leaf-51"><text transform="rotate(32.55) translate(511 0)">Slycopersicum S-RNase 21</text></g>
<g id="leaf-52"><text transform="rotate(36.2) translate(511 0)">Slycopersicum S-RNase 18</text></g>
<g id="leaf-53"><text transform="rotate(39.85) translate(511 0)">Spimpinellifolium S-RNase 22</text></g>
<g id="leaf-54"><text transform="rotate(43.5) translate(511 0)">Slycopersicum S-RNase24</text></g>
<g id="leaf-55"><text transform="rotate(47.15) translate(511 0)">Shabrochaites LA2119 SRN-hab-7</text></g>
<g id="leaf-56"><text transform="rotate(50.81) translate(511 0)">Shabrochaites LA1252 LhgSRN-2</text></g>
<g id="leaf-57"><text transform="rotate(54.46) translate(511 0)">Shabrochaites ZS3</text></g>
<g id="leaf-58"><text transform="rotate(58.11) translate(511 0)">Slycopersicum ZS11 S-RNase 1</text></g>
<g id="leaf-59"><text transform="rotate(61.76) translate(511 0)">Shabrochaites ZS8</text></g>
<g id="leaf-60"><text transform="rotate(65.41) translate(511 0)">Shabrochaites ZS13</text></g>
<g id="leaf-61"><text transform="rotate(69.06) translate(511 0)">Slycopersicum ZS12 S-RNase 2</text></g>
<g id="leaf-62"><text transform="rotate(72.71) translate(511 0)">Shabrochaites ZS2</text></g>
<g id="leaf-63"><text transform="rotate(76.36) translate(511 0)">Spimpinellifolium ZS10</text></g>
<g id="leaf-64"><text transform="rotate(80.01) translate(511 0)">Schilense S10</text></g>
<g id="leaf-65"><text transform="rotate(83.66) translate(511 0)">Schilense S23</text></g>
<g id="leaf-66"><text transform="rotate(87.32) translate(511 0)">Schilense S24</text></g>
<g id="leaf-67"><text class="L" transform="rotate(-89.03) translate(-511 0)">Schilense S12</text></g>
<g id="leaf-68"><text class="L" transform="rotate(-85.38) translate(-511 0)">Schilense S26</text></g>
<g id="leaf-69"><text class="L" transform="rotate(-81.73) translate(-511 0)">Schilense S15</text></g>
<g id="leaf-70"><text class="L" transform="rotate(-78.08) translate(-511 0)">Shabrochaites S-RNase 19</text></g>
<g id="leaf-71"><text class="L" transform="rotate(-74.43) translate(-511 0)">Shabrochaites LA2101 SRN-hab-8</text></g>
<g id="leaf-72"><text class="L" transform="rotate(-70.78) translate(-511 0)">Shabrochaites LA2098 SRN-hab-14</text></g>
<g id="leaf-73"><text class="L" transform="rotate(-67.13) translate(-511 0)">Schilense S27</text></g>
<g id="leaf-74"><text class="L" transform="rotate(-63.48) translate(-511 0)">Speruvianum SP10</text></g>
<g id="leaf-75"><text class="L" transform="rotate(-59.83) translate(-511 0)">Speruvianum SP8</text></g>
<g id="leaf-76"><text class="L" transform="rotate(-56.17) translate(-511 0)">Schilense S28</text></g>
<g id="leaf-77"><text class="L" transform="rotate(-52.52) translate(-511 0)">Schilense S16</text></g>
<g id="leaf-78"><text class="L" transform="rotate(-48.87) translate(-511 0)">Schilense S31</text></g>
<g id="leaf-79"><text class="L" transform="rotate(-45.22) translate(-511 0)">Speruvianum SP16</text></g>
<g id="leaf-80"><text class="L" transform="rotate(-41.57) translate(-511 0)">Schilense S9</text></g>
<g id="leaf-81"><text class="L" transform="rotate(-37.92) translate(-511 0)">Schilense S4</text></g>
<g id="leaf-82"><text class="L" transform="rotate(-34.27) translate(-511 0)">Schilense S8</text></g>
<g id="leaf-83"><text class="L" transform="rotate(-30.62) translate(-511 0)">Shabrochaites S-RNase 17</text></g>
<g id="leaf-84"><text class="L" transform="rotate(-26.97) translate(-511 0)">Schilense S6</text></g>
<g id="leaf-85"><text class="L" transform="rotate(-23.32) translate(-511 0)">Shabrochaites LA2099 SRN-hab-17</text></g>
<g id="leaf-86"><text class="L" transform="rotate(-19.66) translate(-511 0)">Shabrochaites LA2868 SRN-hab-16</text></g>
<g id="leaf-87"><text class="L" transform="rotate(-16.01) translate(-511 0)">Shabrochaites LS502 LhgSRN-1</text></g>
<g id="leaf-88"><text class="L" transform="rotate(-12.36) translate(-511 0)">Schilense S34</text></g>
<g id="leaf-89"><text class="L" transform="rotate(-8.71) translate(-511 0)">Schilense S25</text></g>
<g id="leaf-90"><text class="L" transform="rotate(-5.06) translate(-511 0)">Speruvianum SP11</text></g>
<g id="leaf-91"><text class="L" transform="rotate(-1.41) translate(-511 0)">Schilense-S2 complete</text></g>
<g id="leaf-92"><text class="L" transform="rotate(2.24) translate(-511 0)">Schilense S2</text></g>
<g id="leaf-93"><text class="L" transform="rotate(5.89) translate(-511 0)">Shabrochaites LA1721 hab-6-like</text></g>
<g id="leaf-94"><text class="L" transform="rotate(9.54) translate(-511 0)">Shabrochaites S-RNase 20 pseudogene</text></g>
<g id="leaf-95"><text class="L" transform="rotate(13.19) translate(-511 0)">Shabrochaites LA2722 hab-6-like</text></g>
<g id="leaf-96"><text class="L" transform="rotate(16.85) translate(-511 0)">Shabrochaites LA0094 hab-6-like</text></g>
<g id="leaf-97"><text class="L" transform="rotate(20.5) translate(-511 0)">Shabrochaites LA1753 hab-6-like</text></g>
</g>
</g>
<g id="legend">
<text x="1643" y="655" font-family="Liberation Sans,Arial,sans-serif" font-size="33.8" font-weight="bold" fill="#000">Lycopersicon clade</text>
<path d="M1638 674H1962" stroke="#888" stroke-width="1.5"/>
<rect class="sw" x="1643" y="689" width="45" height="45" fill="#86bd00"/>
<text class="lg" x="1712" y="723">Arcanum</text>
<rect class="sw" x="1643" y="757" width="45" height="45" fill="#ff0000"/>
<text class="lg" x="1712" y="791">Esculentum</text>
<rect class="sw" x="1643" y="825" width="45" height="45" fill="#17b936"/>
<text class="lg" x="1712" y="859">Hirsutum</text>
<rect class="sw" x="1643" y="893" width="45" height="45" fill="#007b31"/>
<text class="lg" x="1712" y="927">Peruvianum</text>
</g>
</svg>
